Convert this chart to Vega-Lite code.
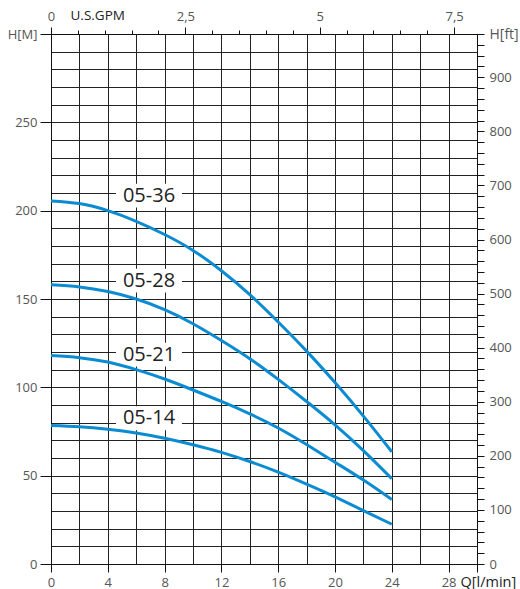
{
  "$schema": "https://vega.github.io/schema/vega-lite/v6.json",
  "width": 426,
  "height": 530,
  "autosize": {"type": "none"},
  "padding": {"left": 51, "top": 34, "right": 43, "bottom": 25},
  "background": "white",
  "config": {
    "view": {"stroke": null},
    "axis": {
      "labelFont": "Open Sans",
      "labelFontSize": 13,
      "labelColor": "#555",
      "titleFont": "Open Sans",
      "titleFontSize": 13,
      "titleFontWeight": "normal",
      "titleColor": "#333",
      "domainColor": "#111",
      "tickColor": "#111",
      "gridColor": "#222",
      "gridOpacity": 1,
      "gridWidth": 1
    }
  },
  "datasets": {
    "curves": [
      {"pump": "05-36", "Q": 0, "H": 205.5},
      {"pump": "05-36", "Q": 2, "H": 204},
      {"pump": "05-36", "Q": 4, "H": 200},
      {"pump": "05-36", "Q": 6, "H": 194},
      {"pump": "05-36", "Q": 8, "H": 186.5},
      {"pump": "05-36", "Q": 10, "H": 177.5},
      {"pump": "05-36", "Q": 12, "H": 166},
      {"pump": "05-36", "Q": 14, "H": 152.5},
      {"pump": "05-36", "Q": 16, "H": 137},
      {"pump": "05-36", "Q": 18, "H": 120.5},
      {"pump": "05-36", "Q": 20, "H": 102.7},
      {"pump": "05-36", "Q": 22, "H": 83.7},
      {"pump": "05-36", "Q": 24, "H": 63.5},
      {"pump": "05-28", "Q": 0, "H": 158},
      {"pump": "05-28", "Q": 2, "H": 156.8},
      {"pump": "05-28", "Q": 4, "H": 154.2},
      {"pump": "05-28", "Q": 6, "H": 150},
      {"pump": "05-28", "Q": 8, "H": 144},
      {"pump": "05-28", "Q": 10, "H": 136},
      {"pump": "05-28", "Q": 12, "H": 126.5},
      {"pump": "05-28", "Q": 14, "H": 116.2},
      {"pump": "05-28", "Q": 16, "H": 104.5},
      {"pump": "05-28", "Q": 18, "H": 92},
      {"pump": "05-28", "Q": 20, "H": 78.8},
      {"pump": "05-28", "Q": 22, "H": 64.2},
      {"pump": "05-28", "Q": 24, "H": 48.3},
      {"pump": "05-21", "Q": 0, "H": 118},
      {"pump": "05-21", "Q": 2, "H": 116.8},
      {"pump": "05-21", "Q": 4, "H": 114.3},
      {"pump": "05-21", "Q": 6, "H": 110},
      {"pump": "05-21", "Q": 8, "H": 104.7},
      {"pump": "05-21", "Q": 10, "H": 98.5},
      {"pump": "05-21", "Q": 12, "H": 92},
      {"pump": "05-21", "Q": 14, "H": 85},
      {"pump": "05-21", "Q": 16, "H": 77},
      {"pump": "05-21", "Q": 18, "H": 67.6},
      {"pump": "05-21", "Q": 20, "H": 57.6},
      {"pump": "05-21", "Q": 22, "H": 47.5},
      {"pump": "05-21", "Q": 24, "H": 36.5},
      {"pump": "05-14", "Q": 0, "H": 78.4},
      {"pump": "05-14", "Q": 2, "H": 77.7},
      {"pump": "05-14", "Q": 4, "H": 76.3},
      {"pump": "05-14", "Q": 6, "H": 74.2},
      {"pump": "05-14", "Q": 8, "H": 71.2},
      {"pump": "05-14", "Q": 10, "H": 67.5},
      {"pump": "05-14", "Q": 12, "H": 63.2},
      {"pump": "05-14", "Q": 14, "H": 58},
      {"pump": "05-14", "Q": 16, "H": 52},
      {"pump": "05-14", "Q": 18, "H": 45.2},
      {"pump": "05-14", "Q": 20, "H": 38},
      {"pump": "05-14", "Q": 22, "H": 30.2},
      {"pump": "05-14", "Q": 24, "H": 22.5}
    ],
    "labels": [
      {"pump": "05-36", "Q": 6.9, "H": 208.5},
      {"pump": "05-28", "Q": 6.9, "H": 160.4},
      {"pump": "05-21", "Q": 6.9, "H": 118.5},
      {"pump": "05-14", "Q": 6.9, "H": 82.5}
    ]
  },
  "layer": [
    {
      "encoding": {
        "x": {
          "field": "Q", "type": "quantitative",
          "scale": {"domain": [0, 30], "nice": false},
          "axis": {
            "orient": "bottom",
            "values": [0, 2, 4, 6, 8, 10, 12, 14, 16, 18, 20, 22, 24, 26, 28, 30],
            "grid": true,
            "tickSize": 8,
            "tickOpacity": {"condition": {"test": "datum.value % 4 !== 0 && datum.value !== 30", "value": 0}, "value": 1},
            "labelExpr": "datum.value % 4 === 0 && datum.value < 30 ? datum.label : ''",
            "labelBaseline": "alphabetic",
            "labelPadding": 14,
            "labelFlush": false,
            "title": "Q[l/min]",
            "titleX": 409,
            "titleY": 22,
            "titleAlign": "left",
            "titleBaseline": "alphabetic",
            "titleFontSize": 14.5,
            "titleColor": "#222"
          }
        },
        "y": {
          "field": "H", "type": "quantitative",
          "scale": {"domain": [0, 300], "nice": false},
          "axis": {
            "orient": "left",
            "values": [0, 10, 20, 30, 40, 50, 60, 70, 80, 90, 100, 110, 120, 130, 140, 150, 160, 170, 180, 190, 200, 210, 220, 230, 240, 250, 260, 270, 280, 290, 300],
            "grid": true,
            "tickSize": 11,
            "tickOpacity": {"condition": {"test": "datum.value % 50 !== 0", "value": 0}, "value": 1},
            "labelExpr": "datum.value === 300 ? 'H[M]' : (datum.value % 50 === 0 ? datum.label : '')",
            "labelPadding": 3,
            "labelFlush": false,
            "title": null
          }
        }
      },
      "layer": [
        {
          "data": {"name": "labels"},
          "mark": {"type": "point", "shape": "M-1,-0.36L1,-0.36L1,0.36L-1,0.36Z", "filled": true, "color": "white", "opacity": 1, "size": 4356, "strokeWidth": 0}
        },
        {
          "data": {"name": "curves"},
          "mark": {"type": "line", "interpolate": "natural", "color": "#0b8bd2", "strokeWidth": 3},
          "encoding": {"detail": {"field": "pump"}}
        },
        {
          "data": {"name": "labels"},
          "mark": {"type": "text", "font": "Open Sans", "fontSize": 20, "color": "#222", "align": "center", "baseline": "middle"},
          "encoding": {"text": {"field": "pump"}}
        }
      ]
    },
    {
      "data": {"name": "curves"},
      "mark": {"type": "point", "opacity": 0},
      "encoding": {
        "x": {"field": "Q", "type": "quantitative", "scale": {"domain": [0, 30], "nice": false}, "axis": null},
        "y": {
          "field": "H", "type": "quantitative",
          "scale": {"domain": [0, 980], "nice": false},
          "axis": {
            "orient": "right",
            "values": [0, 20, 40, 60, 80, 100, 120, 140, 160, 180, 200, 220, 240, 260, 280, 300, 320, 340, 360, 380, 400, 420, 440, 460, 480, 500, 520, 540, 560, 580, 600, 620, 640, 660, 680, 700, 720, 740, 760, 780, 800, 820, 840, 860, 880, 900, 920, 940, 960, 980],
            "grid": false,
            "tickSize": 7,
            "labelExpr": "datum.value === 980 ? 'H[ft]' : (datum.value % 100 === 0 ? datum.label : '')",
            "labelFontSize": {"condition": {"test": "datum.value === 980", "value": 14}, "value": 13},
            "labelPadding": 5,
            "labelFlush": false,
            "title": null
          }
        }
      }
    },
    {
      "data": {"name": "curves"},
      "mark": {"type": "point", "opacity": 0},
      "encoding": {
        "x": {
          "field": "Q", "type": "quantitative",
          "scale": {"domain": [0, 7.926], "nice": false},
          "axis": {
            "orient": "top",
            "values": [0, 0.5, 1, 1.5, 2, 2.5, 3, 3.5, 4, 4.5, 5, 5.5, 6, 6.5, 7, 7.5],
            "grid": false,
            "tickSize": {"condition": {"test": "datum.value % 2.5 === 0", "value": 7}, "value": 4},
            "labelExpr": "datum.value % 2.5 === 0 ? replace(format(datum.value, '~g'), '.', ',') : ''",
            "labelBaseline": "alphabetic",
            "labelPadding": 7,
            "labelFlush": false,
            "title": "U.S.GPM",
            "titleX": 19,
            "titleY": -14.3,
            "titleAlign": "left",
            "titleBaseline": "alphabetic",
            "titleFontSize": 13.5,
            "titleColor": "#222"
          }
        },
        "y": {"field": "H", "type": "quantitative", "scale": {"domain": [0, 300], "nice": false}, "axis": null}
      }
    }
  ],
  "resolve": {"scale": {"x": "independent", "y": "independent"}}
}
